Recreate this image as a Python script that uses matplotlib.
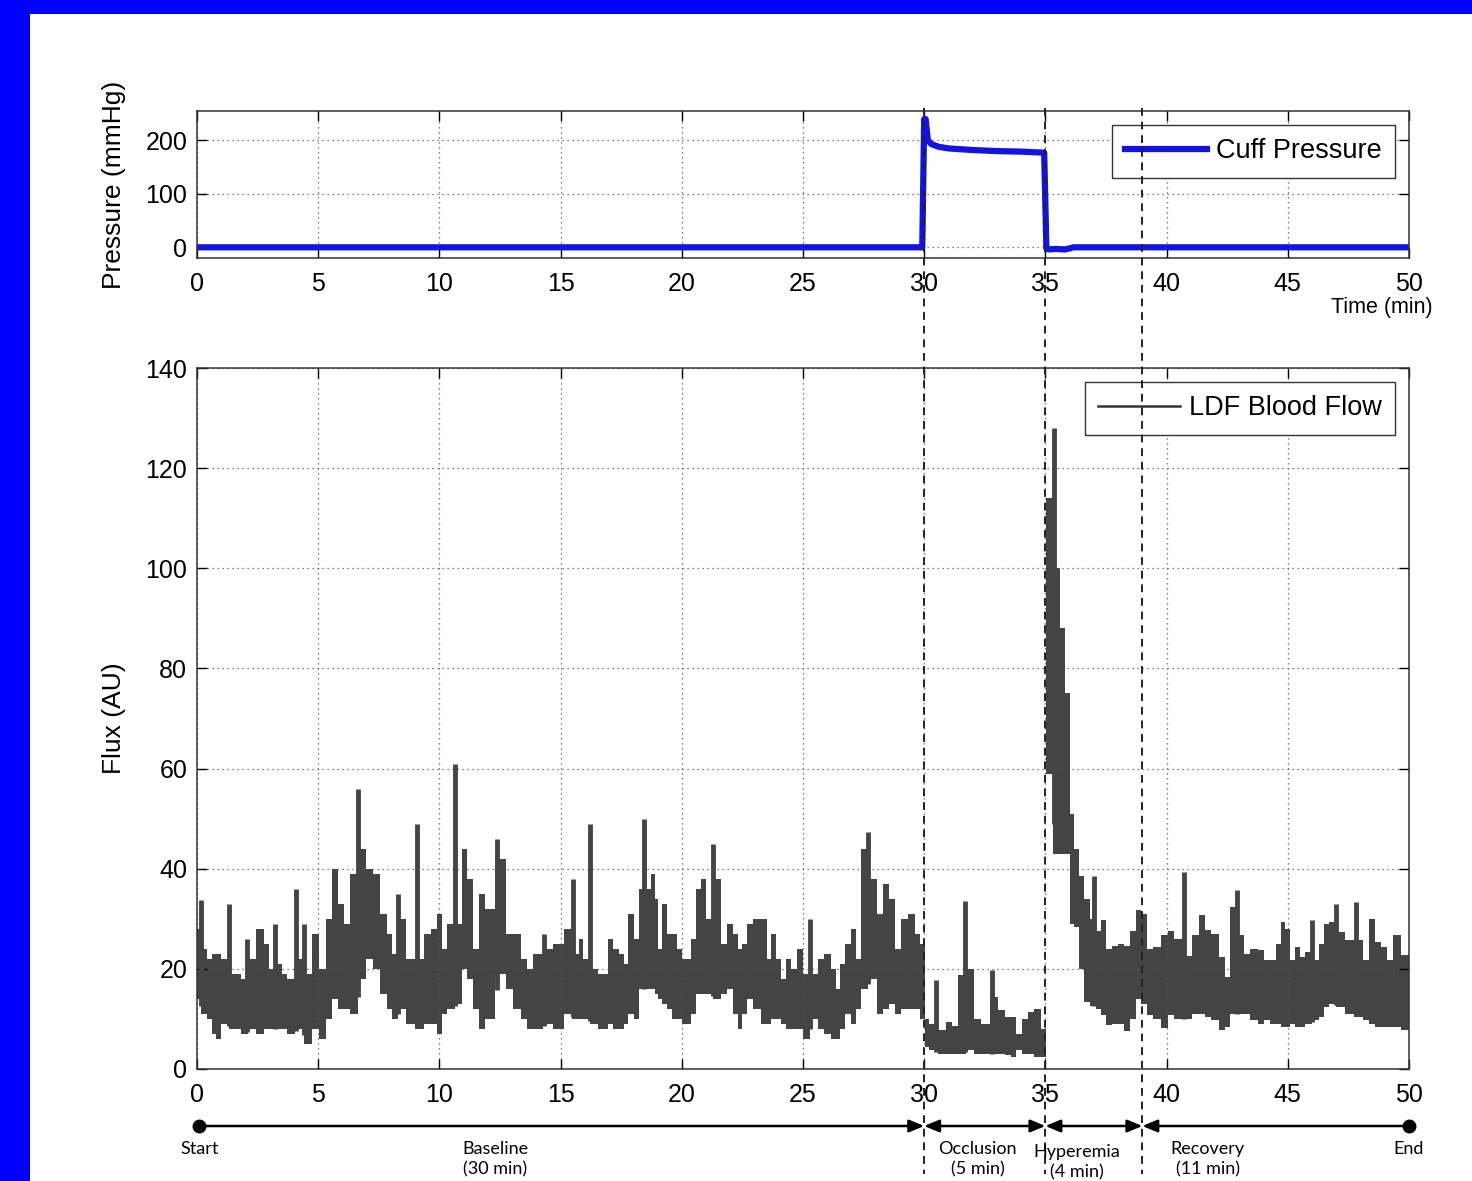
import matplotlib.pyplot as plt
import numpy as np
from matplotlib.lines import Line2D
from matplotlib.patches import Rectangle

plt.rcParams['font.family'] = ['Liberation Sans', 'DejaVu Sans']

# cuff pressure (mmHg) vs time (min)
press_t = [0, 29.92, 30.0, 30.06, 30.15, 30.3, 30.6, 31.0, 32.0, 33.0, 34.0, 34.95,
           35.04, 35.15, 35.4, 35.8, 36.0, 36.15, 50]
press_v = [0, 0, 240, 240, 200, 193, 188, 185, 182, 180, 179, 177,
           -2, -4, -3, -4, -2, 0, 0]

# LDF flux envelope (upper / lower)
flux_t = [0.0, 0.3, 0.5, 0.7, 0.9, 1.1, 1.5, 1.7, 1.9, 2.3, 2.6, 2.9, 3.0, 3.4, 3.6, 3.8,
          4.25, 4.6, 4.9, 5.2, 5.45, 5.65, 5.95, 6.2, 6.45, 6.85, 7.1, 7.4, 7.7, 7.96,
          8.1, 8.5, 8.72, 9.27, 9.5, 9.8, 10.0, 10.2, 10.4, 10.85, 11.05, 11.26, 11.5,
          11.8, 12.0, 12.6, 12.9, 13.2, 13.5, 13.7, 14.0, 14.56, 14.8, 15.05, 15.25,
          15.7, 15.85, 16.0, 16.4, 16.7, 16.9, 17.05, 17.3, 17.5, 17.7, 17.9, 18.15,
          18.3, 18.65, 18.8, 18.96, 19.1, 19.3, 19.5, 19.7, 19.9, 20.1, 20.3, 20.5,
          20.7, 20.9, 21.1, 21.5, 21.7, 22.0, 22.2, 22.4, 22.6, 22.8, 23.1, 23.4,
          23.6, 23.8, 24.0, 24.2, 24.4, 24.6, 24.9, 25.1, 25.5, 25.7, 26.0, 26.3,
          26.45, 26.6, 26.9, 27.1, 27.3, 27.5, 27.9, 28.2, 28.4, 28.7, 28.9, 29.2,
          29.5, 29.7, 29.95, 30.1, 30.3, 30.8, 31.0, 31.3, 31.5, 31.95, 32.2, 32.5,
          32.9, 33.2, 33.5, 33.7, 33.9, 34.2, 34.4, 34.7, 34.95, 35.1, 35.5, 35.7,
          35.9, 36.1, 36.3, 36.5, 36.7, 37.0, 37.2, 37.4, 37.6, 37.9, 38.1, 38.35,
          38.6, 38.85, 39.05, 39.3, 39.6, 39.9, 40.2, 40.45, 40.9, 41.2, 41.5, 41.7,
          42.0, 42.3, 42.5, 42.7, 43.1, 43.3, 43.6, 43.9, 44.1, 44.4, 44.6, 44.8,
          45.0, 45.2, 45.4, 45.6, 45.8, 46.2, 46.4, 46.6, 46.8, 47.2, 47.5, 48.0,
          48.2, 48.5, 48.7, 49.0, 49.2, 49.5, 49.8, 50.0]
flux_hi = [28, 24, 22, 23, 23, 22, 19, 19, 18, 22, 28, 25, 20, 21, 19, 18,
           22, 19, 27, 20, 30, 40, 33, 29, 39, 44, 40, 39, 31, 27,
           23, 30, 22, 22, 27, 28, 31, 24, 29, 29, 44, 38, 24,
           35, 32, 42, 27, 27, 22, 20, 23, 24, 25, 25, 28,
           23, 26, 22, 20, 19, 19, 26, 24, 23, 21, 31, 26,
           36, 36, 39, 34, 24, 33, 27, 27, 24, 22, 22, 26,
           36, 38, 30, 38, 25, 29, 27, 24, 25, 29, 30, 30,
           22, 27, 22, 18, 22, 20, 24, 19, 19, 22, 23, 20,
           16, 21, 25, 28, 22, 44, 38, 31, 37, 34, 24, 30,
           31, 27, 25, 10, 9, 7.7, 9.4, 8.5, 18.7, 20, 10, 9,
           14.4, 11.7, 10.4, 10.4, 7, 10, 11.4, 12, 8, 114, 100, 88,
           75, 51, 44, 38.5, 34, 30, 27.6, 29.7, 24, 24.6, 25, 24.6,
           27.6, 31.8, 31, 24, 24.4, 26.7, 27.5, 26, 22.5, 26.7, 30.7, 27.7,
           27, 22.4, 18.4, 32.4, 26.7, 23, 24, 23.7, 21.7, 21.7, 25, 29.4,
           28, 21.7, 24.4, 22.4, 23.4, 21.7, 25, 29, 29.4, 27.4, 25.7, 25.7,
           21.7, 30, 25.4, 24.4, 21.7, 26.7, 22.7, 22.7]
flux_lo = [14, 11, 10, 7, 6, 9, 8, 8, 7, 8, 7, 8, 8, 8, 8, 7,
           8, 5, 8, 6, 10, 14, 12, 12, 11, 18, 22, 20, 15, 12,
           10, 12, 9, 8, 9, 9, 7, 11, 12, 13, 20, 18, 12,
           8, 10, 19, 16, 12, 10, 8, 8, 9, 8, 8, 11,
           10, 10, 10, 9, 8, 8, 9, 8, 8, 9, 11, 10,
           16, 16, 16, 15, 14, 13, 12, 10, 10, 9, 9, 11,
           15, 15, 15, 14, 15, 16, 11, 8, 11, 14, 12, 9,
           9, 10, 10, 9, 8, 8, 8, 6, 10, 8, 7, 6,
           6, 8, 11, 9, 12, 16, 18, 11, 12, 13, 11, 12,
           12, 12, 10, 4.4, 3.7, 3, 3, 3, 3, 3.7, 3, 3,
           3, 3, 2.7, 2.4, 3.7, 3, 3, 2.4, 2.4, 59, 43, 43,
           43, 29, 28.4, 20, 13.3, 12.5, 12, 10.7, 8.7, 9, 9, 7.6,
           10, 14, 13, 10.7, 10, 8.2, 10.7, 10, 10, 11, 11, 10.4,
           9.7, 7.7, 8.4, 11, 11, 11, 9.7, 9, 9.7, 9, 9, 8.4,
           8.4, 9, 8.4, 8.4, 9, 9.7, 10.4, 12.4, 13, 12.4, 11, 10.4,
           9.7, 9, 8.4, 8.4, 8.4, 8.4, 7.7, 7.7]

# isolated spikes on top of the band
spike_t = [0.15, 1.3, 2.05, 3.2, 4.08, 4.4, 6.64, 8.3, 9.06, 10.64, 12.38, 14.3,
           15.5, 16.2, 18.45, 21.3, 25.3, 27.7, 30.5, 31.7, 32.8, 35.35, 37.0,
           40.7, 42.9, 46.0, 47.0, 47.8]
spike_v = [33.7, 33, 26, 29, 36, 29, 56, 35, 49, 61, 46, 27,
           38, 49, 50, 45, 30, 47.4, 17.7, 33.5, 19.7, 128, 38.5,
           39.3, 35.7, 29.7, 33, 33.4]

events = [30, 35, 39]
phases = ['Baseline\n(30 min)', 'Occlusion\n(5 min)', 'Hyperemia\n(4 min)', 'Recovery\n(11 min)']

W, H = 1472, 1181
fig = plt.figure(figsize=(W / 100, H / 100), dpi=100)
fig.patch.set_facecolor('#0000ff')
fig.patches.append(Rectangle((30 / W, 0), 1, 1 - 14 / H, transform=fig.transFigure,
                             facecolor='white', edgecolor='none', zorder=-1))

L, R = 197 / W, 1409 / W
ax1 = fig.add_axes([L, 1 - 258 / H, R - L, (258 - 111) / H])
ax2 = fig.add_axes([L, 1 - 1069 / H, R - L, (1069 - 368) / H])

for ax in (ax1, ax2):
    ax.set_xlim(0, 50)
    ax.set_xticks(range(0, 51, 5))
    ax.grid(True, linestyle=(0, (1, 3)), color='#555555', linewidth=0.9)
    ax.tick_params(direction='in', top=True, right=True, length=7, width=1,
                   labelsize=18)
    ax.tick_params(axis='x', pad=10)
    ax.tick_params(axis='y', pad=7)
    for s in ax.spines.values():
        s.set_linewidth(1.1)
        s.set_color('#333333')

leg_kw = dict(loc='upper right', fontsize=19.5, fancybox=False, edgecolor='#333333',
              framealpha=1, handlelength=3.0, handletextpad=0.35,
              borderaxespad=0.5, borderpad=0.5)

# pressure
ax1.plot(press_t, press_v, color='#1414e0', linewidth=4.5, label='Cuff Pressure')
ax1.set_ylim(-20, 255)
ax1.set_yticks([0, 100, 200])
ax1.set_ylabel('Pressure (mmHg)', fontsize=19, labelpad=14)
ax1.legend(**leg_kw)
fig.text(1433 / W, 1 - 307 / H, 'Time (min)', ha='right', va='center', fontsize=15.5)

# flux
ax2.fill_between(flux_t, flux_lo, flux_hi, step='mid', color='#444444', linewidth=0)
base = np.interp(spike_t, flux_t, flux_lo)
ax2.vlines(spike_t, base, spike_v, color='#444444', linewidth=3.5)
ax2.set_ylim(0, 140)
ax2.set_yticks(range(0, 141, 20))
ax2.set_ylabel('Flux (AU)', fontsize=19, labelpad=14)
ax2.legend([Line2D([], [], color='#333333', linewidth=1.8)], ['LDF Blood Flow'], **leg_kw)

# overlay: event lines and protocol timeline (y in pixel rows)
ov = fig.add_axes([L, 0, R - L, 1], facecolor='none')
ov.set_xlim(0, 50)
ov.set_ylim(H, 0)
ov.axis('off')
ov.vlines(events, 108, 1174, colors='#222222', linestyles=(0, (4, 3)), linewidth=1.4)

bounds = [0] + events + [50]
styles = ['-|>', '<|-|>', '<|-|>', '<|-']
yl = 1126
for (a, b), st in zip(zip(bounds[:-1], bounds[1:]), styles):
    ov.annotate('', xy=(b, yl), xytext=(a, yl),
                arrowprops=dict(arrowstyle=st + ',head_length=0.6,head_width=0.25',
                                color='black', lw=1.8, shrinkA=0, shrinkB=0,
                                mutation_scale=15))
ov.plot([0.1, 50], [yl, yl], 'o', color='black', markersize=9, clip_on=False)

lab_font = dict(fontsize=13, family=['Lato', 'DejaVu Sans'], ha='center', va='top',
                linespacing=1.3)
ov.text(0.1, 1141, 'Start', **lab_font)
ov.text(50, 1141, 'End', **lab_font)
for x, name, y in zip([12.3, 32.2, 36.3, 41.7], phases, [1141, 1141, 1144, 1141]):
    ov.text(x, y, name, **lab_font)

fig.savefig('out.png', dpi=100, facecolor=fig.get_facecolor())
